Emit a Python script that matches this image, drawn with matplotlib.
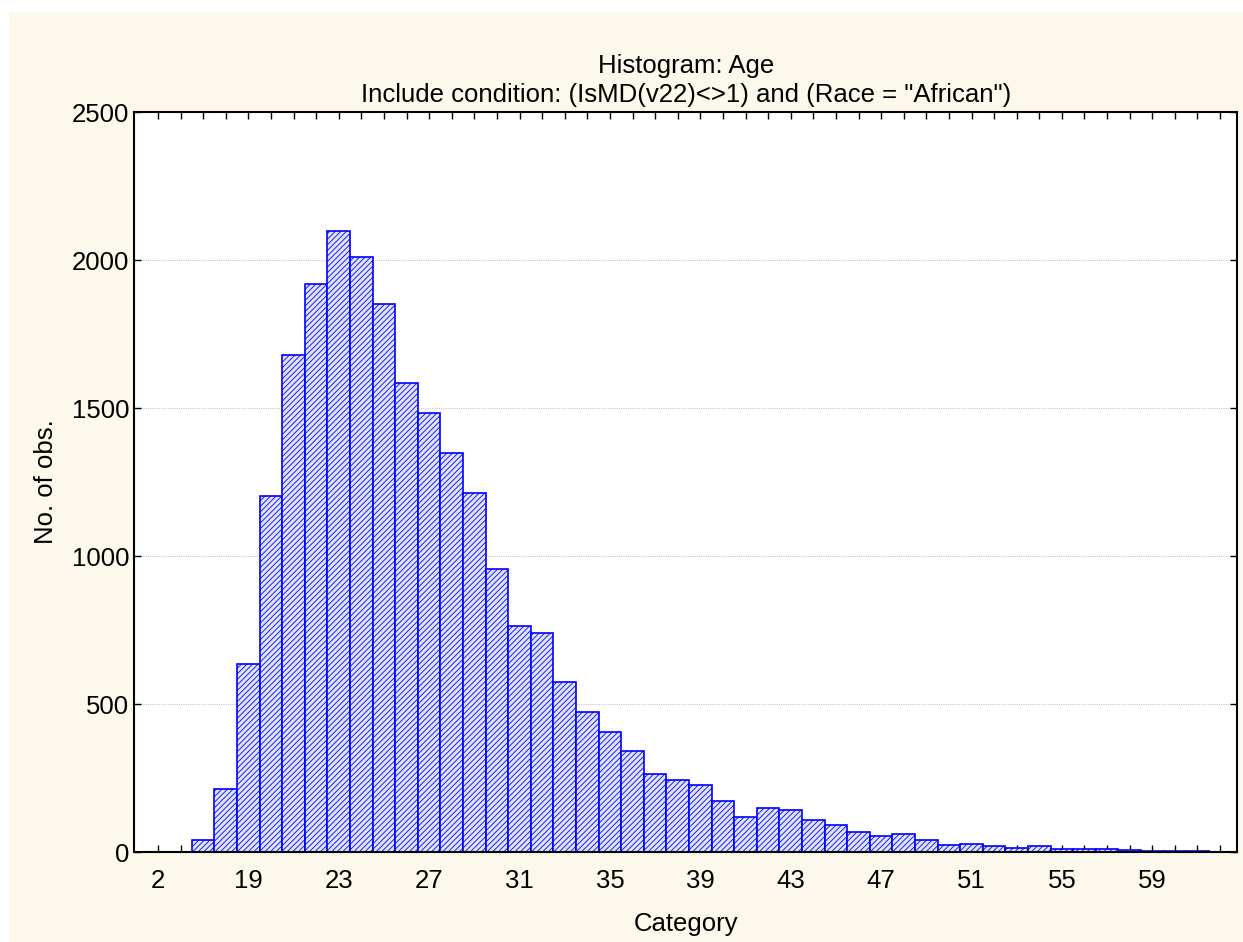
import matplotlib
matplotlib.use("Agg")
import matplotlib.pyplot as plt
from matplotlib.patches import Rectangle

plt.rcParams['font.family'] = ['Liberation Sans', 'DejaVu Sans']
plt.rcParams['hatch.color'] = '#0000ff'
plt.rcParams['hatch.linewidth'] = 0.6

# bar positions are category slots (index 0 = first tick)
positions = list(range(2, 47))
counts = [40, 213, 635, 1203, 1678, 1918, 2098, 2010, 1853, 1585, 1483, 1348, 1213,
          955, 765, 740, 575, 473, 405, 342, 262, 245, 225, 173, 120, 150, 143, 107,
          91, 68, 53, 61, 42, 25, 28, 21, 12, 20, 10, 11, 9, 8, 5, 2, 3]
tick_labels = ["2", "19", "23", "27", "31", "35", "39", "43", "47", "51", "55", "59"]
label_positions = list(range(0, 45, 4))

FS = 18.5
fig = plt.figure(figsize=(12.43, 9.42), dpi=100, facecolor='white')
bg = Rectangle((9/1243, 0), 1 - 9/1243, 1 - 12/942, transform=fig.transFigure,
               facecolor='#fdf8ec', edgecolor='none', zorder=-10)
fig.add_artist(bg)
ax = fig.add_axes([0.108, 0.0955, 0.8872, 0.7855])
ax.set_zorder(1)
ax.set_facecolor('white')
ax.bar(positions, counts, width=1.0, color='#dfe3fb', edgecolor='#0000ff',
       linewidth=1.2, hatch='//////', zorder=2)
ax.set_xlim(-1.05, 47.75)
ax.set_ylim(0, 2500)
ax.set_yticks(range(0, 2501, 500))
ax.set_xticks(range(0, 48), minor=True)
ax.set_xticks(label_positions)
ax.set_xticklabels(tick_labels)
ax.tick_params(which='both', direction='in', top=True, right=True, labelsize=FS, length=5, width=1)
ax.tick_params(axis='x', pad=12)
ax.grid(axis='y', linestyle=(0, (1, 1)), color='#c8c8c8', linewidth=0.8, zorder=0)
for s in ax.spines.values():
    s.set_linewidth(1.5)
ax.set_xlabel('Category', fontsize=FS, labelpad=14)
ax.set_ylabel('No. of obs.', fontsize=FS, labelpad=10)
ax.set_title('Histogram: Age\nInclude condition: (IsMD(v22)<>1) and (Race = "African")',
             fontsize=FS, linespacing=1.3, pad=7)
fig.savefig('out.png', dpi=100, facecolor=fig.get_facecolor())
